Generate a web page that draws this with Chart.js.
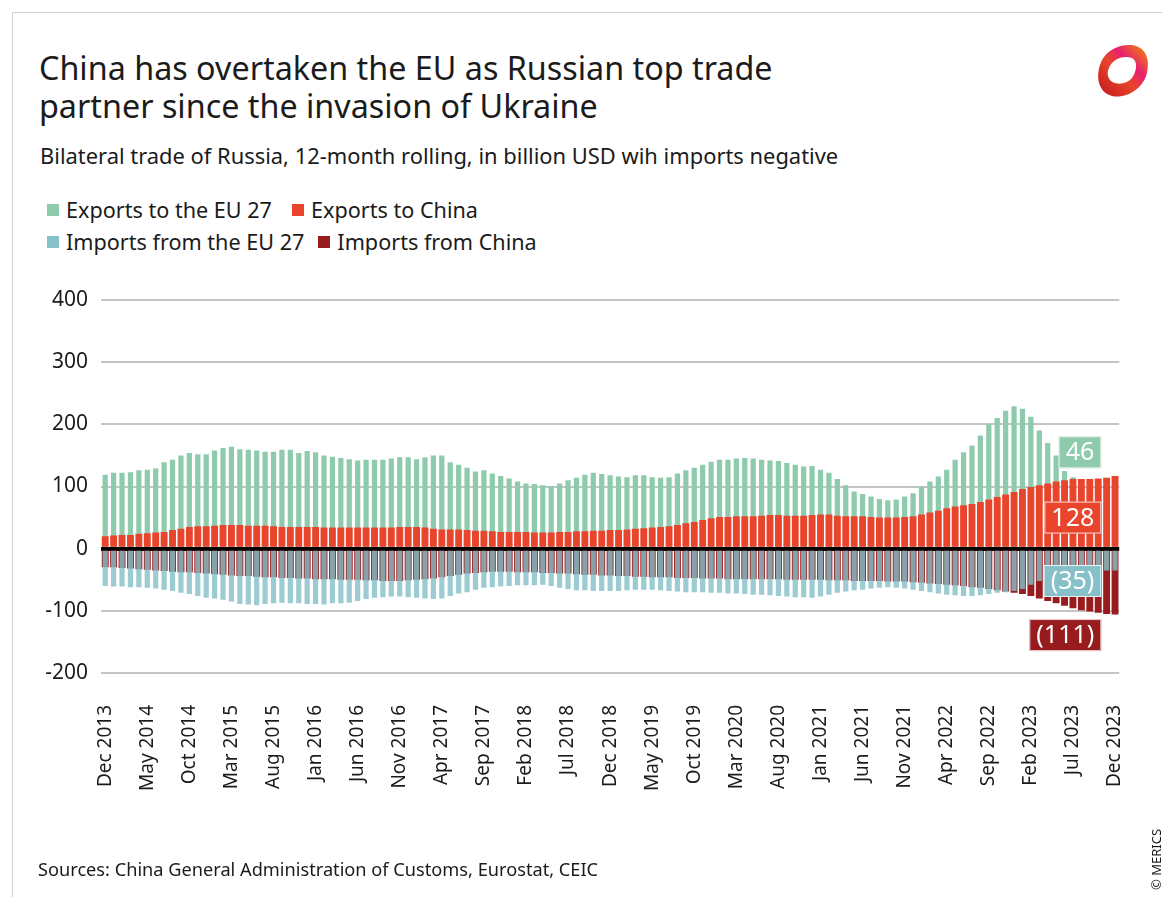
<!DOCTYPE html>
<html>
<head>
<meta charset="utf-8">
<script src="https://cdn.jsdelivr.net/npm/chart.js@4.4.1/dist/chart.umd.min.js"></script>
<style>
  body { margin: 0; width: 1162px; height: 897px; background: #fff; font-family: "Noto Sans", sans-serif; color: #1b1b1b; position: relative; overflow: hidden; }
  .frame { position: absolute; left: 12px; top: 12px; width: 1160px; height: 900px; border-top: 1px solid #d0d0d0; border-left: 1px solid #d0d0d0; }
  #title { position: absolute; left: 39px; top: 48px; font-size: 32.3px; line-height: 38px; }
  #subtitle { position: absolute; left: 40px; top: 141px; font-size: 21.9px; }
  .legend { position: absolute; left: 47px; font-size: 21.6px; white-space: nowrap; }
  .legend span.sw { display: inline-block; width: 12px; height: 12px; margin-right: 7px; vertical-align: 2px; }
  .legend span.item { margin-right: 14px; }
  #leg1 span.item:first-child { margin-right: 20px; }
  #source { position: absolute; left: 38px; top: 857px; font-size: 18.2px; }
  #credit { position: absolute; left: 1147px; top: 890px; font-size: 13px; transform: rotate(-90deg); transform-origin: 0 0; white-space: nowrap; }
  #logo { position: absolute; left: 1092px; top: 41px; }
  canvas { position: absolute; left: 0; top: 0; }
</style>
</head>
<body>
<div class="frame"></div>
<div id="title">China has overtaken the EU as Russian top trade<br>partner since the invasion of Ukraine</div>
<div id="subtitle">Bilateral trade of Russia, 12-month rolling, in billion USD wih imports negative</div>
<div class="legend" id="leg1" style="top:195px"></div>
<div class="legend" id="leg2" style="top:227px"></div>
<svg id="logo" width="60" height="60" viewBox="0 0 60 60">
  <defs>
    <linearGradient id="lg" x1="0" y1="1" x2="1" y2="0">
      <stop offset="0" stop-color="#c4161c"/>
      <stop offset="0.45" stop-color="#e8452c"/>
      <stop offset="0.65" stop-color="#e6206e"/>
      <stop offset="1" stop-color="#f39200"/>
    </linearGradient>
  </defs>
  <path d="M8 24 C12 10 26 3 40 4 C54 6 58 18 55 32 C51 48 34 58 20 55 C6 51 4 36 8 24 Z" fill="url(#lg)"/>
  <path d="M17 27 C20 19 30 14 40 17 C46 20 45 30 40 37 C34 44 24 44 19 40 C15 36 15 31 17 27 Z" fill="#fff"/>
</svg>
<canvas id="chart" width="1162" height="897"></canvas>
<div id="source">Sources: China General Administration of Customs, Eurostat, CEIC</div>
<div id="credit">© MERICS</div>

<script>
const monthNames = ['Jan', 'Feb', 'Mar', 'Apr', 'May', 'Jun', 'Jul', 'Aug', 'Sep', 'Oct', 'Nov', 'Dec'];
const firstMonth = 11; // Dec
const firstYear = 2013;
const monthCount = 121;
const labelEvery = 5;

const categories = [];
for (let k = 0; k < monthCount; k++) {
    const m = firstMonth + k;
    categories.push(monthNames[m % 12] + ' ' + (firstYear + Math.floor(m / 12)));
}

const exportsEU = [
    119, 122, 122, 123, 126, 127, 129, 139, 143, 150,
    154, 152, 152, 158, 162, 164, 160, 159, 158, 156,
    156, 159, 159, 154, 157, 155, 150, 148, 146, 144,
    142, 143, 143, 143, 145, 147, 147, 144, 147, 150,
    150, 139, 135, 130, 124, 126, 121, 117, 113, 108,
    105, 104, 102, 101, 105, 110, 114, 119, 122, 120,
    118, 116, 115, 118, 118, 115, 114, 115, 121, 126,
    130, 135, 140, 143, 143, 145, 146, 145, 143, 142,
    141, 138, 135, 132, 133, 127, 122, 112, 102, 92,
    88, 84, 80, 78, 79, 84, 89, 100, 108, 116,
    127, 143, 155, 166, 182, 200, 210, 222, 229, 225,
    212, 190, 170, 150, 125, 115, 100, 85, 70, 58, 46
];

const exportsChina = [
    20, 21, 22, 22, 24, 25, 26, 27, 30, 32,
    35, 36, 36, 37, 38, 38, 38, 37, 37, 37,
    36, 35, 35, 35, 35, 35, 34, 34, 34, 34,
    34, 34, 34, 34, 34, 35, 35, 35, 34, 32,
    31, 31, 31, 30, 29, 29, 28, 27, 27, 27,
    27, 26, 26, 26, 27, 27, 28, 28, 29, 29,
    30, 30, 31, 32, 33, 34, 35, 36, 38, 41,
    43, 46, 49, 51, 51, 52, 52, 52, 53, 54,
    54, 53, 53, 53, 54, 55, 55, 53, 52, 52,
    52, 51, 50, 50, 50, 51, 52, 55, 58, 61,
    65, 68, 70, 72, 75, 79, 83, 87, 91, 96,
    99, 102, 105, 108, 110, 112, 112, 112, 113, 114, 117
];

const importsEU = [
    -60, -61, -61, -62, -62, -63, -64, -66, -68, -71,
    -73, -76, -79, -80, -82, -85, -89, -90, -91, -89,
    -88, -87, -88, -88, -89, -89, -90, -88, -88, -87,
    -84, -81, -79, -78, -77, -77, -78, -79, -80, -81,
    -80, -76, -72, -70, -66, -63, -62, -61, -60, -59,
    -59, -59, -58, -60, -63, -65, -67, -67, -68, -68,
    -68, -68, -67, -66, -66, -66, -67, -68, -69, -70,
    -70, -70, -71, -71, -72, -72, -73, -74, -74, -75,
    -76, -77, -78, -78, -79, -77, -74, -71, -69, -67,
    -66, -64, -63, -62, -63, -64, -66, -68, -70, -72,
    -74, -75, -76, -76, -75, -73, -71, -70, -68, -65,
    -58, -52, -48, -45, -42, -40, -38, -37, -36, -35, -35
];

const importsChina = [
    -30, -30, -31, -32, -33, -34, -35, -36, -37, -38,
    -38, -39, -40, -41, -42, -43, -44, -44, -45, -46,
    -46, -47, -47, -48, -48, -49, -49, -49, -50, -50,
    -50, -51, -51, -52, -52, -52, -51, -50, -49, -48,
    -46, -44, -42, -40, -39, -38, -37, -37, -37, -38,
    -38, -38, -39, -39, -40, -40, -41, -42, -42, -43,
    -43, -44, -44, -45, -45, -46, -46, -46, -47, -47,
    -47, -48, -48, -48, -49, -49, -49, -49, -49, -49,
    -49, -50, -50, -50, -50, -50, -51, -51, -51, -52,
    -52, -52, -52, -53, -53, -53, -54, -55, -56, -57,
    -58, -59, -60, -62, -63, -65, -67, -69, -71, -73,
    -76, -80, -84, -88, -92, -96, -99, -101, -103, -105, -106
];

const seriesNames = ['Exports to the EU 27', 'Exports to China', 'Imports from the EU 27', 'Imports from China'];
const endLabels = ['46', '128', '(35)', '(111)'];

const GREEN = '#8ecbad';
const RED = '#e8452c';
const BLUE = '#86c0c8';
const DARKRED = '#981b1e';
const colors = [GREEN, RED, BLUE, DARKRED];
const FONT = '"Noto Sans", sans-serif';

// html legend, two rows like the original
function legendItem(i) {
    return `<span class="item"><span class="sw" style="background:${colors[i]}"></span>${seriesNames[i]}</span>`;
}
document.getElementById('leg1').innerHTML = legendItem(0) + legendItem(1);
document.getElementById('leg2').innerHTML = legendItem(2) + legendItem(3);

// value boxes at the right end of the bars
const endBoxes = {
    id: 'endBoxes',
    afterDraw(chart) {
        const { ctx, chartArea, scales } = chart;
        const anchors = [155, 50, -52, -139];
        ctx.save();
        ctx.font = '25px ' + FONT;
        ctx.textBaseline = 'middle';
        ctx.textAlign = 'center';
        endLabels.forEach((txt, i) => {
            const w = ctx.measureText(txt).width + 14;
            const h = 32;
            const right = chartArea.right - 18;
            const cy = scales.y.getPixelForValue(anchors[i]);
            ctx.fillStyle = colors[i];
            ctx.fillRect(right - w, cy - h / 2, w, h);
            ctx.strokeStyle = 'rgba(255,255,255,0.8)';
            ctx.lineWidth = 1;
            ctx.strokeRect(right - w + 0.5, cy - h / 2 + 0.5, w - 1, h - 1);
            ctx.fillStyle = '#fff';
            ctx.fillText(txt, right - w / 2, cy + 1);
        });
        ctx.restore();
    }
};

const ctx = document.getElementById('chart').getContext('2d');
new Chart(ctx, {
    type: 'bar',
    data: {
        labels: categories,
        datasets: [
            { label: seriesNames[0], data: exportsEU, backgroundColor: GREEN, grouped: false, order: 2, barPercentage: 0.62, categoryPercentage: 1 },
            { label: seriesNames[1], data: exportsChina, backgroundColor: RED, grouped: false, order: 1, barPercentage: 0.82, categoryPercentage: 1 },
            { label: seriesNames[2], data: importsEU, backgroundColor: 'rgba(134,192,200,0.82)', grouped: false, order: 3, barPercentage: 0.62, categoryPercentage: 1 },
            { label: seriesNames[3], data: importsChina, backgroundColor: DARKRED, grouped: false, order: 4, barPercentage: 0.82, categoryPercentage: 1 }
        ]
    },
    options: {
        responsive: false,
        animation: false,
        layout: { padding: { left: 41, right: 39, top: 300, bottom: 94 } },
        scales: {
            x: {
                grid: { display: false },
                border: { display: false },
                ticks: {
                    autoSkip: false,
                    maxRotation: 90,
                    minRotation: 90,
                    padding: 24,
                    color: '#1b1b1b',
                    font: { family: FONT, size: 19 },
                    callback: function(value, index) {
                        return index % labelEvery === 0 ? categories[index] : null;
                    }
                },
                afterFit: scale => { scale.height = 130; }
            },
            y: {
                min: -200,
                max: 400,
                z: 1,
                border: { display: false },
                grid: {
                    drawTicks: false,
                    color: ctx => ctx.tick && ctx.tick.value === 0 ? '#000' : 'rgba(190,190,190,0.9)',
                    lineWidth: ctx => ctx.tick && ctx.tick.value === 0 ? 4 : 2
                },
                ticks: {
                    stepSize: 100,
                    padding: 13,
                    color: '#1b1b1b',
                    font: { family: FONT, size: 21 }
                },
                afterFit: scale => { scale.width = 60; }
            }
        },
        plugins: {
            legend: { display: false },
            tooltip: { enabled: false }
        }
    },
    plugins: [endBoxes]
});
</script>
</body>
</html>
